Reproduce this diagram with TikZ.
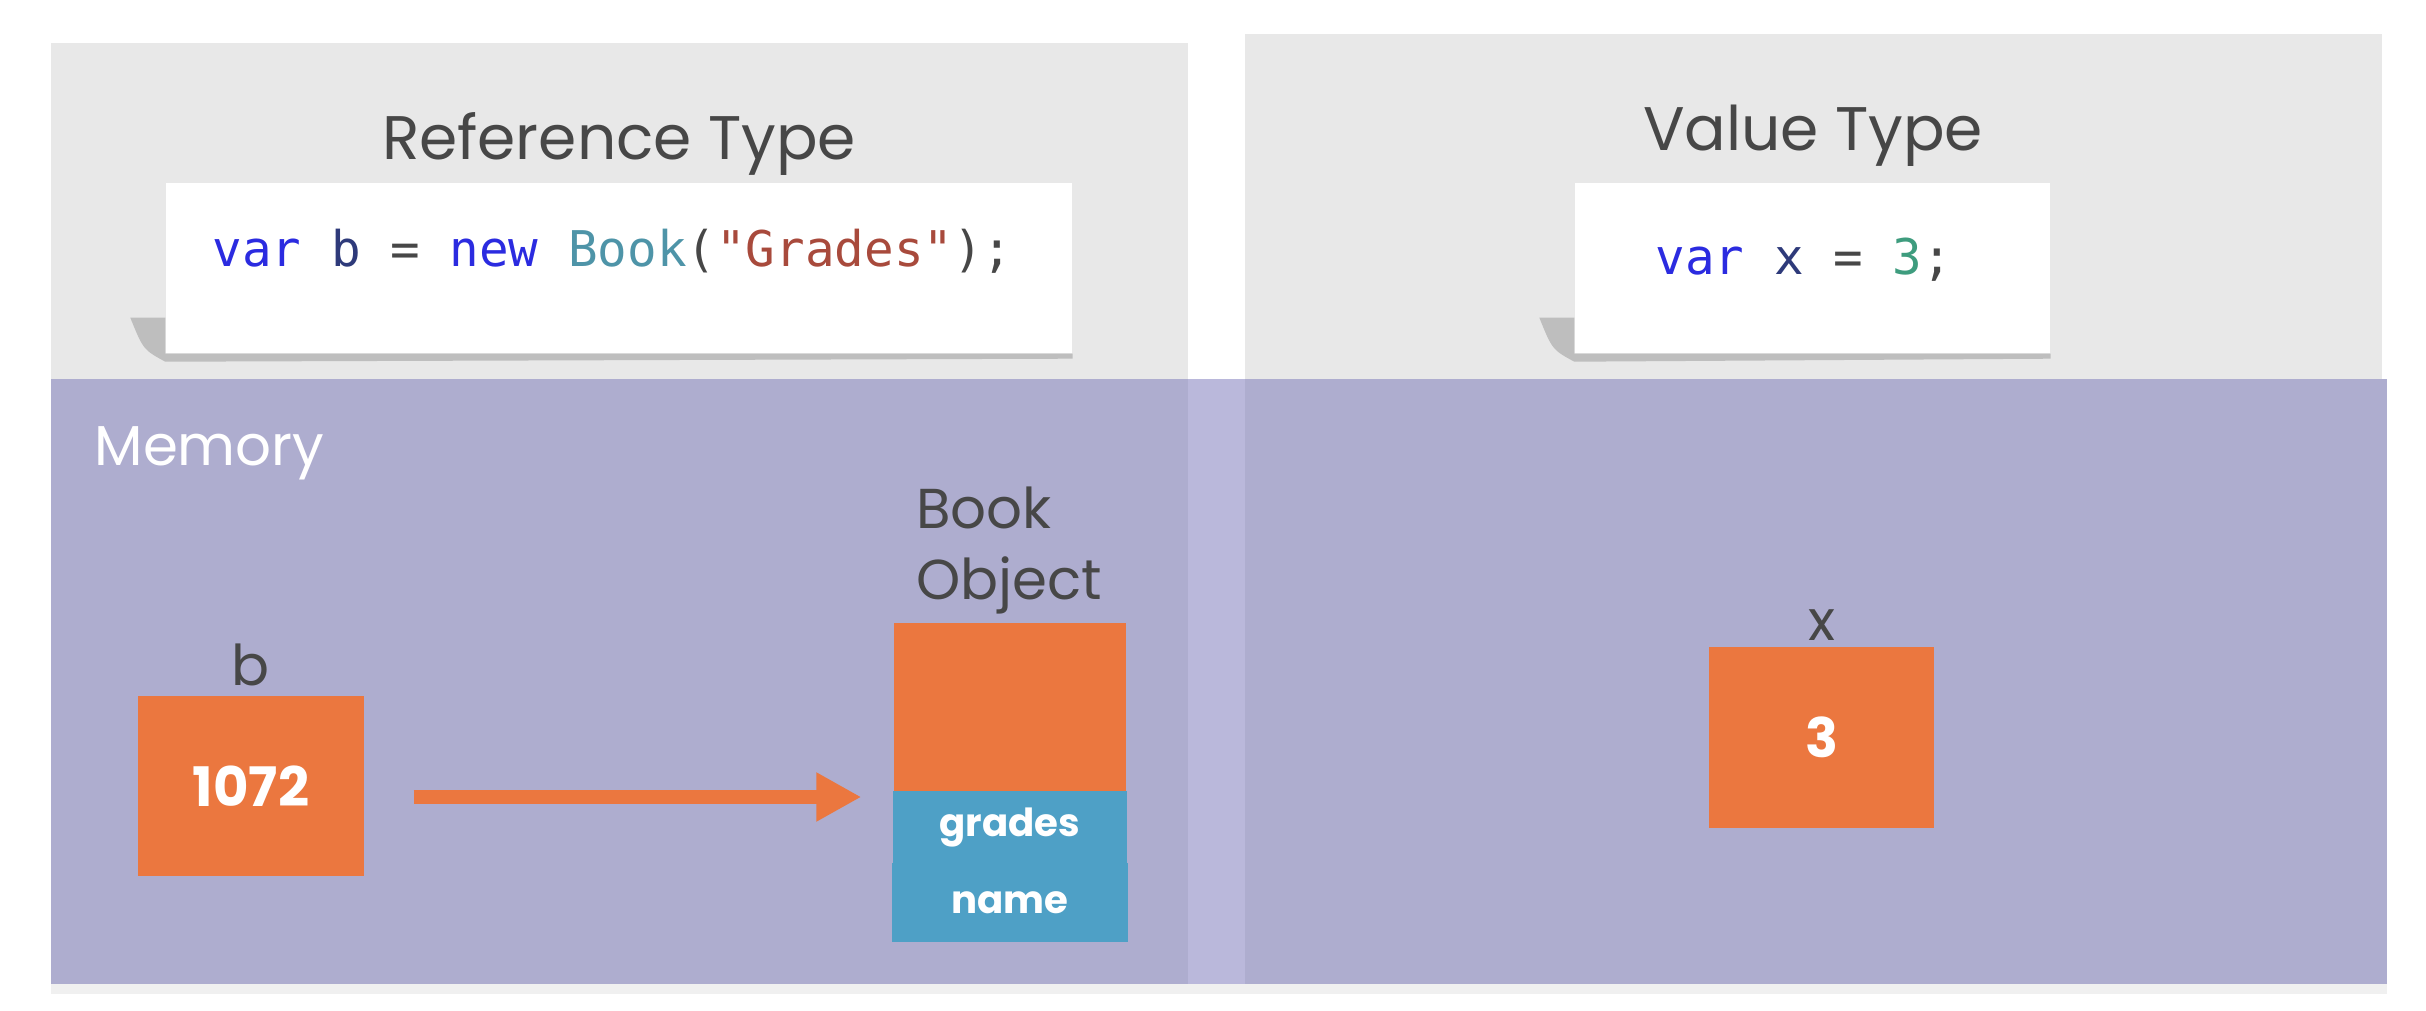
\documentclass[tikz,border=0pt]{standalone}
\usepackage{fontspec}
\setmainfont{Poppins}
\newfontfamily\codefont{DejaVu Sans Mono}
\usetikzlibrary{arrows.meta,positioning}

\definecolor{panelgray}{HTML}{E8E8E8}
\definecolor{mempurple}{HTML}{AEADCF}
\definecolor{gapviolet}{HTML}{BAB8DB}
\definecolor{objorange}{HTML}{EB773F}
\definecolor{fieldblue}{HTML}{4EA0C6}
\definecolor{labelgray}{HTML}{474747}
\definecolor{kwblue}{HTML}{2B2BE0}
\definecolor{idblue}{HTML}{2E3A7A}
\definecolor{typeteal}{HTML}{4E94A8}
\definecolor{strred}{HTML}{A84A3C}
\definecolor{numgreen}{HTML}{3E9C7E}

% curled shadow under the lower left corner of a code box
\newcommand{\curlshadow}[1]{%
  \fill[black, opacity=0.18] ([xshift=-3.5mm,yshift=3.6mm]#1.south west)
    .. controls ([xshift=-2.2mm,yshift=0.4mm]#1.south west) .. ([yshift=-0.8mm]#1.south west)
    -- ([yshift=-0.5mm]#1.south east) -- (#1.south east) -- (#1.south west)
    -- ([yshift=3.6mm]#1.south west) -- cycle;}

\begin{document}
\begin{tikzpicture}[
	title/.style={text=labelgray, font=\fontsize{17.5}{20}\selectfont},
	codebox/.style={rectangle, fill=white, inner sep=0pt},
	code/.style={font=\codefont\fontsize{14}{16}\selectfont, inner sep=0pt},
	varlabel/.style={text=labelgray, font=\fontsize{16}{19}\selectfont, inner sep=1pt},
	cell/.style={rectangle, fill=objorange, text=white, inner sep=0pt, font=\bfseries\fontsize{15.5}{19}\selectfont},
	field/.style={rectangle, fill=fieldblue, text=white, inner sep=0pt, minimum width=2.34cm, font=\bfseries\fontsize{11}{13}\selectfont},
	refarrow/.style={draw=objorange, line width=1.4mm, -{Triangle[length=4.5mm,width=4.6mm]}}]

	\useasboundingbox (0,0) rectangle (24.26,10.10);

	% Panels
	\fill[panelgray] (0.51,6.31) rectangle (11.88,9.67);
	\fill[panelgray] (12.45,6.31) rectangle (23.82,9.76);
	\fill[mempurple] (0.51,0.26) rectangle (11.88,6.31);
	\fill[gapviolet] (11.88,0.26) rectangle (12.45,6.31);
	\fill[mempurple] (12.45,0.26) rectangle (23.87,6.31);
	\fill[black!6] (0.51,0.16) rectangle (23.87,0.26);

	% Reference type
	\node[title] (reftitle) at (6.19,8.66) {Reference Type};
	\node[codebox, minimum width=9.06cm, minimum height=1.70cm] (refcode) at (6.19,7.42) {};
	\curlshadow{refcode}
	\node[code, anchor=west] (refline) at (2.12,7.59)
		{\textcolor{kwblue}{var} \textcolor{idblue}{b} \textcolor{labelgray}{=} \textcolor{kwblue}{new} \textcolor{typeteal}{Book}\textcolor{labelgray}{(}\textcolor{strred}{"Grades"}\textcolor{labelgray}{);}};

	% Value type
	\node[title] (valtitle) at (18.13,8.74) {Value Type};
	\node[codebox, minimum width=4.75cm, minimum height=1.70cm] (valcode) at (18.125,7.42) {};
	\curlshadow{valcode}
	\node[code, anchor=west] (valline) at (16.55,7.50)
		{\textcolor{kwblue}{var} \textcolor{idblue}{x} \textcolor{labelgray}{=} \textcolor{numgreen}{3}\textcolor{labelgray}{;}};

	% Memory
	\node[text=white, anchor=west, inner sep=0pt, font=\fontsize{16}{19}\selectfont] (memory) at (0.94,5.57) {Memory};

	\node[cell, minimum width=2.26cm, minimum height=1.80cm] (bval) at (2.51,2.24) {1072};
	\node[varlabel, above=0.05cm of bval] (blabel) {b};

	\node[cell, minimum width=2.32cm, minimum height=1.68cm] (bobj) at (10.10,3.03) {};
	\node[field, minimum height=0.72cm, below=-0.01cm of bobj] (grades) {grades};
	\node[field, minimum width=2.36cm, minimum height=0.79cm, below=-0.02cm of grades] (name) {name};
	\node[varlabel, align=left, anchor=south west, font=\fontsize{16}{20}\selectfont] (objlabel) at (9.12,3.92) {Book\\Object};

	\node[cell, minimum width=2.25cm, minimum height=1.81cm] (xval) at (18.215,2.725) {3};
	\node[varlabel, above=0.02cm of xval] (xlabel) {x};

	% Reference
	\draw[refarrow, shorten <=0.49cm, shorten >=0.32cm] ([yshift=-1.1mm]bval.east) -- ([yshift=-1.1mm]bval.east -| bobj.west);
\end{tikzpicture}
\end{document}
